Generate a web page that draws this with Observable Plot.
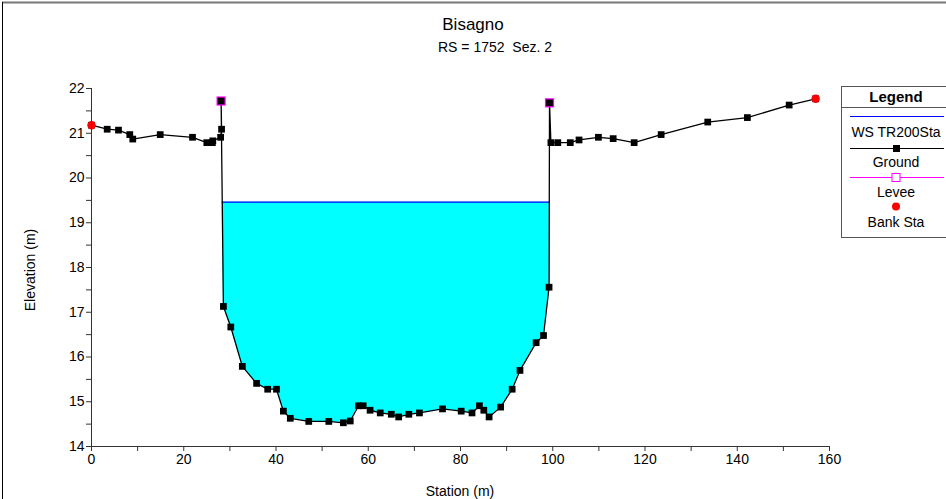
<!DOCTYPE html>
<html>
<head>
<meta charset="utf-8">
<script src="https://cdn.jsdelivr.net/npm/d3@7"></script>
<script src="https://cdn.jsdelivr.net/npm/@observablehq/plot@0.6"></script>
<style>
  html, body { margin: 0; padding: 0; background: #fff; }
  #chart { width: 946px; height: 499px; overflow: hidden; }
</style>
</head>
<body>
<div id="chart"></div>
<script>
// ---- data ----
const groundStation = [0, 3.4, 5.85, 8.3, 8.95, 14.9, 21.9, 25.0, 26.2, 26.3, 28.0, 28.2, 28.1, 28.6, 30.2, 32.7, 35.8, 38.2, 40.1, 41.6, 43.1, 47.1, 51.45, 54.6, 56.1, 57.9, 58.9, 60.4, 62.6, 65.0, 66.6, 68.8, 71.1, 76.1, 80.15, 82.5, 84.1, 85.05, 86.2, 88.7, 91.2, 92.9, 96.4, 98.0, 99.2, 99.3, 99.6, 101.1, 103.8, 105.7, 109.9, 113.1, 117.65, 123.5, 133.6, 142.2, 151.25, 157.0];
const groundElev = [21.18, 21.09, 21.07, 20.97, 20.87, 20.97, 20.91, 20.79, 20.79, 20.83, 20.91, 21.09, 21.72, 17.13, 16.67, 15.79, 15.41, 15.28, 15.28, 14.79, 14.63, 14.56, 14.56, 14.53, 14.57, 14.91, 14.91, 14.81, 14.75, 14.72, 14.66, 14.72, 14.75, 14.84, 14.79, 14.75, 14.91, 14.81, 14.66, 14.88, 15.28, 15.70, 16.32, 16.48, 17.56, 21.68, 20.79, 20.79, 20.79, 20.85, 20.91, 20.88, 20.79, 20.97, 21.25, 21.35, 21.63, 21.77];
const wsElev = 19.46;               // WS TR200Sta
const leveeStation = [28.1, 99.3];
const leveeElev = [21.72, 21.68];
const bankStation = [0, 157.0];
const bankElev = [21.18, 21.77];
const xTicks = [0, 10, 20, 30, 40, 50, 60, 70, 80, 90, 100, 110, 120, 130, 140, 150, 160];
const yTicks = [14, 14.5, 15, 15.5, 16, 16.5, 17, 17.5, 18, 18.5, 19, 19.5, 20, 20.5, 21, 21.5, 22];
const titleText = "Bisagno";
const subtitleText = "RS = 1752  Sez. 2";
const xLabel = "Station (m)";
const yLabel = "Elevation (m)";
const legendItems = ["WS TR200Sta", "Ground", "Levee", "Bank Sta"];

// ---- build tables ----
const ground = groundStation.map((s, i) => ({s, e: groundElev[i]}));
const levee = leveeStation.map((s, i) => ({s, e: leveeElev[i]}));
const bank = bankStation.map((s, i) => ({s, e: bankElev[i]}));

// water polygon: ground points below WS between the two crossings
function crossing(a, b) {
  const t = (wsElev - a.e) / (b.e - a.e);
  return {s: a.s + t * (b.s - a.s), e: wsElev};
}
const water = [];
let inside = false;
for (let i = 1; i < ground.length; i++) {
  const a = ground[i - 1], b = ground[i];
  if (!inside && a.e >= wsElev && b.e < wsElev) { water.push(crossing(a, b)); inside = true; }
  if (inside) {
    if (b.e < wsElev) water.push(b);
    else { water.push(crossing(a, b)); break; }
  }
}
const wsLine = [{s: water[0].s, e: wsElev}, {s: water[water.length - 1].s, e: wsElev}];

const FONT = "'Liberation Sans', Arial, sans-serif";

const chart = Plot.plot({
  width: 946,
  height: 499,
  marginLeft: 91,
  marginRight: 117,
  marginTop: 88,
  marginBottom: 53,
  style: {fontFamily: FONT, fontSize: "14px", background: "#fff", color: "#000", overflow: "visible"},
  x: {domain: [0, 160]},
  y: {domain: [14, 22]},
  marks: [
    Plot.areaY(water, {x: "s", y1: "e", y2: wsElev, fill: "#00ffff", curve: "linear"}),
    Plot.line(wsLine, {x: "s", y: "e", stroke: "#0000ff", strokeWidth: 1.3}),
    Plot.line(ground, {x: "s", y: "e", stroke: "#000", strokeWidth: 1.3}),
    Plot.dot(levee, {x: "s", y: "e", symbol: "square", r: 5.2, fill: "#ff00ff", stroke: "none"}),
    Plot.dot(ground, {x: "s", y: "e", symbol: "square", r: 3.8, fill: "#000", stroke: "none"}),
    Plot.dot(bank, {x: "s", y: "e", r: 4.2, fill: "#ff0000", stroke: "none"}),
    Plot.ruleY([14], {x1: 0, x2: 160, stroke: "#333"}),
    Plot.ruleX([0], {y1: 14, y2: 22, stroke: "#333"}),
    Plot.axisX({ticks: xTicks, tickFormat: d => d % 20 === 0 ? String(d) : "", tickSize: 5, tickPadding: 3, stroke: "#333", label: null, fontSize: 14}),
    Plot.axisY({ticks: yTicks, tickFormat: d => Number.isInteger(d) ? String(d) : "", tickSize: 5, tickPadding: 2, stroke: "#333", label: null, fontSize: 14})
  ]
});

document.getElementById("chart").appendChild(chart);

// ---- annotations: frame, titles, axis labels, legend ----
const svg = d3.select(chart);
const g = svg.append("g").attr("font-family", FONT).attr("fill", "#000");

g.append("line").attr("x1", 2).attr("x2", 946).attr("y1", 2.5).attr("y2", 2.5).attr("stroke", "#777").attr("stroke-width", 2);
g.append("line").attr("x1", 2.5).attr("x2", 2.5).attr("y1", 2).attr("y2", 499).attr("stroke", "#000").attr("stroke-width", 1);

g.append("text").attr("x", 473).attr("y", 30).attr("text-anchor", "middle").attr("font-size", 17).text(titleText);
g.append("text").attr("x", 495).attr("y", 52).attr("text-anchor", "middle").attr("font-size", 14).text(subtitleText);
g.append("text").attr("x", 460).attr("y", 496).attr("text-anchor", "middle").attr("font-size", 14).text(xLabel);
g.append("text").attr("transform", "translate(35,270) rotate(-90)").attr("text-anchor", "middle").attr("font-size", 14).text(yLabel);

// legend
const L = g.append("g");
const lx = 841, ly = 86, lw = 110, lh = 151, cx = 896;
L.append("rect").attr("x", lx + 0.5).attr("y", ly + 0.5).attr("width", lw).attr("height", lh).attr("fill", "#fff").attr("stroke", "#555");
L.append("line").attr("x1", lx).attr("x2", lx + lw).attr("y1", 107.5).attr("y2", 107.5).attr("stroke", "#555");
L.append("text").attr("x", cx).attr("y", 102).attr("text-anchor", "middle").attr("font-size", 15).attr("font-weight", "bold").text("Legend");
const x1 = 850, x2 = 944;
L.append("line").attr("x1", x1).attr("x2", x2).attr("y1", 116.5).attr("y2", 116.5).attr("stroke", "#0000ff").attr("stroke-width", 1.2);
L.append("text").attr("x", cx).attr("y", 137).attr("text-anchor", "middle").attr("font-size", 14).text(legendItems[0]);
L.append("line").attr("x1", x1).attr("x2", x2).attr("y1", 148.5).attr("y2", 148.5).attr("stroke", "#000").attr("stroke-width", 1.2);
L.append("rect").attr("x", cx - 3).attr("y", 145).attr("width", 7).attr("height", 7).attr("fill", "#000");
L.append("text").attr("x", cx).attr("y", 167).attr("text-anchor", "middle").attr("font-size", 14).text(legendItems[1]);
L.append("line").attr("x1", x1).attr("x2", x2).attr("y1", 177.5).attr("y2", 177.5).attr("stroke", "#ff00ff").attr("stroke-width", 1.2);
L.append("rect").attr("x", cx - 4).attr("y", 173.5).attr("width", 8).attr("height", 8).attr("fill", "#fff").attr("stroke", "#ff00ff");
L.append("text").attr("x", cx).attr("y", 197).attr("text-anchor", "middle").attr("font-size", 14).text(legendItems[2]);
L.append("circle").attr("cx", cx).attr("cy", 206.5).attr("r", 4).attr("fill", "#ff0000");
L.append("text").attr("x", cx).attr("y", 227).attr("text-anchor", "middle").attr("font-size", 14).text(legendItems[3]);
</script>
</body>
</html>
